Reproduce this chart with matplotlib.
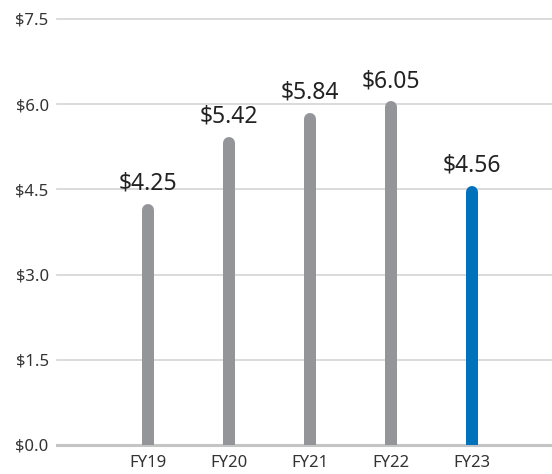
import matplotlib
matplotlib.use("Agg")
import matplotlib.pyplot as plt

categories = ["FY19", "FY20", "FY21", "FY22", "FY23"]
values = [4.25, 5.42, 5.84, 6.05, 4.56]
y_ticks = [0.0, 1.5, 3.0, 4.5, 6.0, 7.5]
y_tick_labels = ["$0.0", "$1.5", "$3.0", "$4.5", "$6.0", "$7.5"]
value_labels = ["$4.25", "$5.42", "$5.84", "$6.05", "$4.56"]
colors = ["#939598", "#939598", "#939598", "#939598", "#0072BC"]

plt.rcParams['font.family'] = ['Noto Sans', 'DejaVu Sans']

W, H = 552, 474
fig = plt.figure(figsize=(W / 100, H / 100), dpi=100)
ax_left, ax_right = 57, 552
y0_px, ytop_px = 445, 19
ax = fig.add_axes([ax_left / W, (H - y0_px) / H, (ax_right - ax_left) / W, (y0_px - ytop_px) / H])
ax.set_ylim(0, 7.5)
spacing = 81.0
first_center = 148 - ax_left
x0 = -first_center / spacing
ax.set_xlim(x0, x0 + (ax_right - ax_left) / spacing)

for s in ax.spines.values():
    s.set_visible(False)

for t in y_ticks:
    if t == 0:
        ax.axhline(t, color="#c4c4c4", lw=2.2, clip_on=False, zorder=1)
    else:
        ax.axhline(t, color="#d4d4d4", lw=1.2, clip_on=False, zorder=1)

units_per_px = 7.5 / (y0_px - ytop_px)
bar_px = 12
lw_pt = bar_px * 72 / 100
half = bar_px / 2 * units_per_px
xs = list(range(len(categories)))
for x, v, c, lab in zip(xs, values, colors, value_labels):
    ax.plot([x, x], [-1, v - half], color=c, lw=lw_pt, solid_capstyle="round", zorder=3)
    ax.annotate(lab, (x, v), xytext=(0, 6), textcoords="offset points",
                ha="center", va="bottom", fontsize=16.5, color="#222222")

ax.set_yticks(y_ticks)
ax.set_yticklabels(y_tick_labels, fontsize=12, color="#333333")
ax.set_xticks(xs)
ax.set_xticklabels(categories, fontsize=12, color="#333333")
ax.tick_params(axis="both", length=0)
ax.tick_params(axis="y", pad=6)
ax.tick_params(axis="x", pad=7)

fig.savefig("out.png", dpi=100)
